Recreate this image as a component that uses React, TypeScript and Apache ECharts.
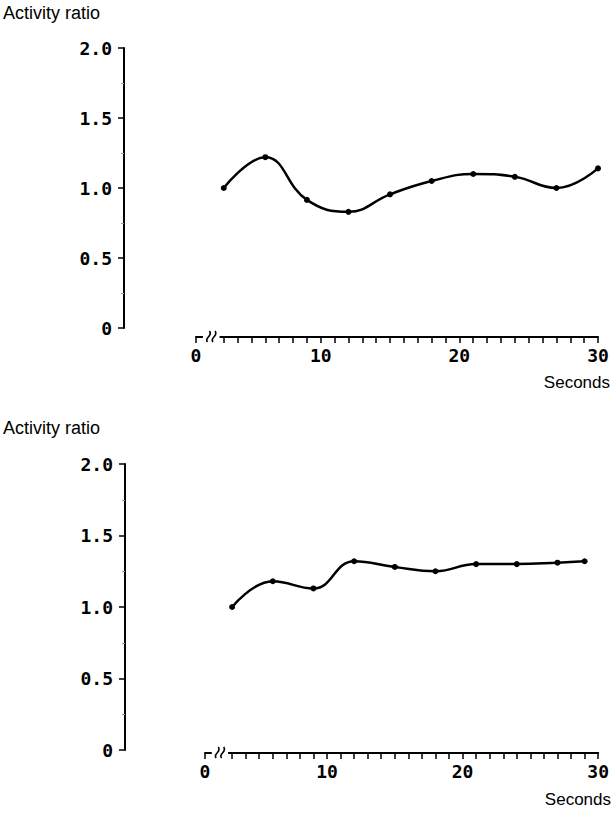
import React, { useEffect, useRef } from "react";
import * as echarts from "echarts";

// Top panel
const topSeconds = [3, 6, 9, 12, 15, 18, 21, 24, 27, 30];
const topRatio = [1.0, 1.22, 0.915, 0.83, 0.955, 1.05, 1.1, 1.08, 1.0, 1.14];
// Bottom panel
const bottomSeconds = [3, 6, 9, 12, 15, 18, 21, 24, 27, 29];
const bottomRatio = [1.0, 1.18, 1.13, 1.32, 1.28, 1.25, 1.3, 1.3, 1.31, 1.32];

// Axis ticks / labels ("0" is drawn at the broken-axis start, value 1)
const xTickValues = [1, 3, 4, 5, 6, 7, 8, 9, 10, 11, 12, 13, 14, 15, 16, 17, 18, 19, 20, 21, 22, 23, 24, 25, 26, 27, 28, 29, 30];
const xLabelValues = [1, 10, 20, 30];
const xLabelTexts = ["0", "10", "20", "30"];
const yLabelValues = [0, 0.5, 1, 1.5, 2];
const yLabelTexts = ["0", "0.5", "1.0", "1.5", "2.0"];

const yTitle = "Activity ratio";
const xTitle = "Seconds";

const MONO = "'DejaVu Sans Mono', monospace";
const SANS = "'Liberation Sans', Arial, sans-serif";

function yAxis(gridIndex: number, offset: number) {
  return {
    type: "value",
    gridIndex,
    min: 0,
    max: 2,
    interval: 0.5,
    position: "left",
    offset,
    axisLine: { show: true, lineStyle: { color: "#000", width: 2 } },
    axisTick: { show: true, length: 6, lineStyle: { color: "#000", width: 1.5 } },
    minorTick: { show: true, splitNumber: 2, length: 3, lineStyle: { color: "#999", width: 1 } },
    splitLine: { show: false },
    axisLabel: {
      color: "#000",
      fontFamily: MONO,
      fontWeight: "bold",
      fontSize: 18,
      margin: 12,
      formatter: (v: number) => {
        const i = yLabelValues.findIndex((u) => Math.abs(u - v) < 1e-6);
        return i >= 0 ? yLabelTexts[i] : "";
      },
    },
  };
}

function xAxis(gridIndex: number, offset: number) {
  return {
    type: "value",
    gridIndex,
    min: 1,
    max: 30,
    interval: 1,
    position: "bottom",
    offset,
    axisLine: { show: true, onZero: false, lineStyle: { color: "#000", width: 2 } },
    axisTick: { show: true, length: 6, customValues: xTickValues, lineStyle: { color: "#000", width: 1.5 } },
    splitLine: { show: false },
    axisLabel: {
      customValues: xLabelValues,
      showMinLabel: true,
      showMaxLabel: true,
      color: "#000",
      fontFamily: MONO,
      fontWeight: "bold",
      fontSize: 18,
      margin: 9,
      formatter: (v: number) => {
        const i = xLabelValues.indexOf(v);
        return i >= 0 ? xLabelTexts[i] : "";
      },
    },
  };
}

function lineSeries(idx: number, xs: number[], ys: number[]) {
  return {
    type: "line",
    xAxisIndex: idx,
    yAxisIndex: idx,
    data: xs.map((x, i) => [x, ys[i]]),
    smooth: 0.45,
    symbol: "circle",
    symbolSize: 6,
    itemStyle: { color: "#000" },
    lineStyle: { color: "#000", width: 2.5 },
    clip: false,
  };
}

export default function App() {
  const ref = useRef<HTMLDivElement>(null);
  useEffect(() => {
    document.body.style.margin = "0";
    if (!ref.current) return;
    const chart = echarts.init(ref.current, null, { renderer: "svg" });
    const xOffsets = [9, 3];
    const option: any = {
      animation: false,
      backgroundColor: "#fff",
      grid: [
        { left: 196, right: 14, top: 48, bottom: 486 },
        { left: 205, right: 7, top: 464, bottom: 64 },
      ],
      xAxis: [xAxis(0, xOffsets[0]), xAxis(1, xOffsets[1])],
      yAxis: [yAxis(0, 72), yAxis(1, 80)],
      series: [lineSeries(0, topSeconds, topRatio), lineSeries(1, bottomSeconds, bottomRatio)],
    };
    chart.setOption(option);

    // axis-break marks and titles
    const graphics: any[] = [];
    [0, 1].forEach((g) => {
      const y0 = (chart.convertToPixel({ yAxisIndex: g }, 0) as number) + xOffsets[g];
      const xa = chart.convertToPixel({ xAxisIndex: g }, 1.5) as number;
      const xb = chart.convertToPixel({ xAxisIndex: g }, 2.7) as number;
      const c1 = chart.convertToPixel({ xAxisIndex: g }, 1.9) as number;
      const c2 = chart.convertToPixel({ xAxisIndex: g }, 2.3) as number;
      graphics.push({ type: "rect", shape: { x: xa, y: y0 - 3, width: xb - xa, height: 6 }, style: { fill: "#fff" }, z: 10 });
      [c1, c2].forEach((c) => {
        graphics.push({
          type: "bezierCurve",
          shape: { x1: c - 1, y1: y0 + 5, cpx1: c - 5, cpy1: y0 + 1, cpx2: c + 5, cpy2: y0 - 1, x2: c + 1, y2: y0 - 6 },
          style: { stroke: "#000", lineWidth: 1.6, fill: null },
          z: 11,
        });
      });
    });
    graphics.push(
      { type: "text", left: 3, top: 4, style: { text: yTitle, font: `18px ${SANS}`, fill: "#000" } },
      { type: "text", left: 3, top: 419, style: { text: yTitle, font: `18px ${SANS}`, fill: "#000" } },
      { type: "text", right: 2, top: 374, style: { text: xTitle, font: `17px ${SANS}`, fill: "#000" } },
      { type: "text", right: 1, top: 791, style: { text: xTitle, font: `17px ${SANS}`, fill: "#000" } }
    );
    chart.setOption({ graphic: graphics });
    return () => chart.dispose();
  }, []);
  return <div ref={ref} style={{ width: 612, height: 814 }} />;
}
